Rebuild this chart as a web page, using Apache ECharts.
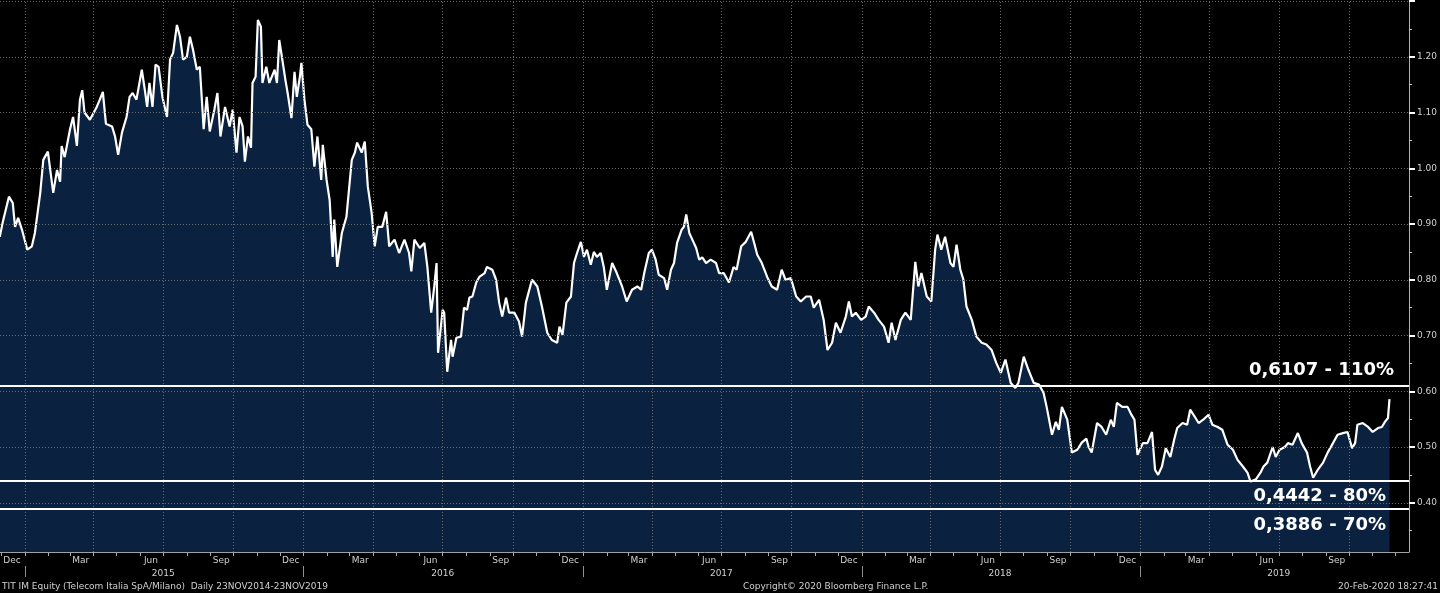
<!DOCTYPE html>
<html>
<head>
<meta charset="utf-8">
<script src="https://cdn.jsdelivr.net/npm/echarts@6/dist/echarts.min.js"></script>
<style>
html,body{margin:0;padding:0;background:#000;}
#chart{width:1440px;height:593px;}
</style>
</head>
<body>
<div id="chart"></div>
<script>
// ---- price data (date, close) ----
const px2014 = [['2014-11-29',0.877],['2014-12-03',0.904],['2014-12-11',0.949],['2014-12-16',0.938],['2014-12-19',0.895],['2014-12-23',0.911],['2014-12-28',0.890]];
const px2015 = [['2015-01-04',0.854],['2015-01-10',0.860],['2015-01-14',0.884],['2015-01-21',0.956],['2015-01-25',1.015],['2015-01-31',1.030],['2015-02-07',0.956],['2015-02-12',0.997],['2015-02-16',0.976],['2015-02-18',1.040],['2015-02-22',1.020],['2015-03-01',1.070],['2015-03-05',1.092],['2015-03-10',1.040],['2015-03-14',1.123],['2015-03-17',1.140],['2015-03-20',1.100],['2015-03-27',1.087],['2015-04-05',1.110],['2015-04-09',1.123],['2015-04-13',1.137],['2015-04-17',1.080],['2015-04-25',1.075],['2015-04-29',1.057],['2015-05-03',1.024],['2015-05-08',1.064],['2015-05-14',1.092],['2015-05-18',1.128],['2015-05-22',1.135],['2015-05-27',1.123],['2015-06-03',1.177],['2015-06-07',1.140],['2015-06-10',1.110],['2015-06-13',1.153],['2015-06-17',1.110],['2015-06-21',1.186],['2015-06-25',1.182],['2015-06-30',1.128],['2015-07-06',1.092],['2015-07-10',1.195],['2015-07-14',1.207],['2015-07-19',1.257],['2015-07-23',1.236],['2015-07-27',1.195],['2015-08-01',1.200],['2015-08-05',1.236],['2015-08-09',1.213],['2015-08-14',1.177],['2015-08-18',1.182],['2015-08-23',1.070],['2015-08-27',1.128],['2015-08-31',1.066],['2015-09-06',1.105],['2015-09-10',1.135],['2015-09-14',1.057],['2015-09-20',1.110],['2015-09-26',1.075],['2015-09-30',1.105],['2015-10-05',1.028],['2015-10-09',1.092],['2015-10-13',1.075],['2015-10-16',1.012],['2015-10-20',1.057],['2015-10-24',1.037],['2015-10-26',1.153],['2015-10-30',1.164],['2015-11-02',1.266],['2015-11-06',1.254],['2015-11-08',1.153],['2015-11-13',1.182],['2015-11-17',1.153],['2015-11-24',1.177],['2015-11-27',1.153],['2015-11-30',1.230],['2015-12-04',1.195],['2015-12-08',1.159],['2015-12-11',1.135],['2015-12-16',1.090],['2015-12-20',1.173],['2015-12-23',1.128],['2015-12-27',1.164],['2015-12-29',1.189]];
const px2016 = [['2016-01-02',1.123],['2016-01-06',1.078],['2016-01-11',1.070],['2016-01-15',1.003],['2016-01-19',1.057],['2016-01-24',0.979],['2016-01-26',1.042],['2016-01-31',0.979],['2016-02-04',0.943],['2016-02-08',0.841],['2016-02-10',0.908],['2016-02-14',0.823],['2016-02-20',0.884],['2016-02-26',0.913],['2016-03-04',1.015],['2016-03-08',1.028],['2016-03-11',1.046],['2016-03-17',1.028],['2016-03-21',1.048],['2016-03-25',0.967],['2016-03-30',0.920],['2016-04-03',0.860],['2016-04-07',0.895],['2016-04-13',0.895],['2016-04-18',0.922],['2016-04-22',0.860],['2016-04-29',0.872],['2016-05-05',0.848],['2016-05-12',0.872],['2016-05-18',0.848],['2016-05-21',0.815],['2016-05-25',0.872],['2016-06-01',0.857],['2016-06-07',0.866],['2016-06-11',0.823],['2016-06-16',0.741],['2016-06-20',0.788],['2016-06-23',0.830],['2016-06-25',0.669],['2016-07-01',0.746],['2016-07-03',0.741],['2016-07-07',0.635],['2016-07-12',0.692],['2016-07-14',0.662],['2016-07-19',0.696],['2016-07-25',0.698],['2016-07-29',0.750],['2016-08-02',0.746],['2016-08-05',0.768],['2016-08-09',0.770],['2016-08-14',0.795],['2016-08-18',0.805],['2016-08-25',0.812],['2016-08-28',0.823],['2016-09-04',0.818],['2016-09-09',0.800],['2016-09-13',0.759],['2016-09-17',0.734],['2016-09-22',0.768],['2016-09-26',0.741],['2016-10-03',0.741],['2016-10-09',0.725],['2016-10-13',0.698],['2016-10-18',0.759],['2016-10-26',0.800],['2016-11-02',0.788],['2016-11-08',0.752],['2016-11-15',0.705],['2016-11-21',0.692],['2016-11-28',0.687],['2016-12-01',0.716],['2016-12-05',0.701],['2016-12-10',0.759],['2016-12-16',0.770],['2016-12-20',0.830],['2016-12-24',0.848],['2016-12-29',0.868]];
const px2017 = [['2017-01-02',0.841],['2017-01-06',0.854],['2017-01-11',0.827],['2017-01-15',0.850],['2017-01-19',0.841],['2017-01-24',0.848],['2017-01-28',0.823],['2017-02-01',0.782],['2017-02-08',0.830],['2017-02-14',0.812],['2017-02-21',0.788],['2017-02-27',0.761],['2017-03-06',0.782],['2017-03-13',0.788],['2017-03-18',0.782],['2017-03-22',0.812],['2017-03-28',0.848],['2017-04-01',0.854],['2017-04-06',0.836],['2017-04-10',0.809],['2017-04-17',0.803],['2017-04-21',0.782],['2017-04-26',0.818],['2017-04-30',0.830],['2017-05-04',0.866],['2017-05-10',0.890],['2017-05-13',0.895],['2017-05-16',0.917],['2017-05-20',0.884],['2017-05-24',0.872],['2017-05-29',0.857],['2017-06-02',0.836],['2017-06-06',0.840],['2017-06-11',0.830],['2017-06-17',0.836],['2017-06-24',0.830],['2017-06-28',0.812],['2017-07-04',0.812],['2017-07-11',0.795],['2017-07-17',0.823],['2017-07-21',0.818],['2017-07-27',0.860],['2017-08-02',0.868],['2017-08-09',0.886],['2017-08-13',0.866],['2017-08-17',0.845],['2017-08-23',0.830],['2017-08-30',0.805],['2017-09-05',0.788],['2017-09-12',0.782],['2017-09-18',0.818],['2017-09-23',0.800],['2017-09-30',0.803],['2017-10-07',0.770],['2017-10-13',0.761],['2017-10-20',0.770],['2017-10-26',0.770],['2017-10-30',0.750],['2017-11-06',0.764],['2017-11-12',0.728],['2017-11-17',0.674],['2017-11-23',0.687],['2017-11-28',0.723],['2017-12-04',0.705],['2017-12-11',0.734],['2017-12-15',0.761],['2017-12-19',0.734],['2017-12-24',0.741],['2017-12-31',0.728]];
const px2018 = [['2018-01-06',0.734],['2018-01-10',0.752],['2018-01-17',0.741],['2018-01-23',0.728],['2018-01-30',0.716],['2018-02-05',0.687],['2018-02-09',0.723],['2018-02-14',0.692],['2018-02-21',0.728],['2018-02-27',0.741],['2018-03-06',0.728],['2018-03-12',0.832],['2018-03-16',0.788],['2018-03-20',0.812],['2018-03-27',0.770],['2018-04-02',0.761],['2018-04-07',0.854],['2018-04-10',0.881],['2018-04-15',0.854],['2018-04-20',0.877],['2018-04-27',0.830],['2018-05-01',0.823],['2018-05-05',0.863],['2018-05-10',0.818],['2018-05-14',0.800],['2018-05-18',0.752],['2018-05-25',0.728],['2018-05-31',0.698],['2018-06-07',0.687],['2018-06-13',0.684],['2018-06-20',0.674],['2018-06-26',0.651],['2018-07-02',0.633],['2018-07-08',0.657],['2018-07-15',0.615],['2018-07-21',0.606],['2018-07-25',0.615],['2018-08-01',0.662],['2018-08-07',0.639],['2018-08-14',0.615],['2018-08-21',0.612],['2018-08-27',0.597],['2018-08-31',0.572],['2018-09-07',0.522],['2018-09-12',0.545],['2018-09-16',0.531],['2018-09-20',0.572],['2018-09-27',0.549],['2018-10-03',0.490],['2018-10-10',0.495],['2018-10-16',0.508],['2018-10-22',0.515],['2018-10-25',0.500],['2018-10-29',0.490],['2018-11-05',0.543],['2018-11-11',0.536],['2018-11-17',0.522],['2018-11-23',0.549],['2018-11-27',0.536],['2018-12-01',0.579],['2018-12-08',0.572],['2018-12-15',0.572],['2018-12-20',0.558],['2018-12-24',0.549],['2018-12-28',0.486]];
const px2019 = [['2019-01-04',0.507],['2019-01-10',0.507],['2019-01-16',0.527],['2019-01-20',0.459],['2019-01-24',0.450],['2019-01-29',0.465],['2019-02-03',0.498],['2019-02-09',0.482],['2019-02-14',0.513],['2019-02-18',0.534],['2019-02-25',0.543],['2019-03-03',0.540],['2019-03-07',0.567],['2019-03-14',0.552],['2019-03-18',0.543],['2019-03-24',0.549],['2019-03-31',0.558],['2019-04-05',0.540],['2019-04-12',0.536],['2019-04-18',0.531],['2019-04-25',0.504],['2019-05-02',0.495],['2019-05-08',0.477],['2019-05-15',0.465],['2019-05-21',0.454],['2019-05-25',0.438],['2019-06-01',0.442],['2019-06-07',0.454],['2019-06-11',0.465],['2019-06-16',0.472],['2019-06-23',0.500],['2019-06-27',0.482],['2019-07-02',0.495],['2019-07-09',0.500],['2019-07-13',0.507],['2019-07-19',0.504],['2019-07-26',0.525],['2019-07-31',0.507],['2019-08-07',0.490],['2019-08-11',0.465],['2019-08-15',0.445],['2019-08-21',0.459],['2019-08-28',0.472],['2019-09-03',0.490],['2019-09-10',0.507],['2019-09-16',0.522],['2019-09-23',0.525],['2019-09-29',0.527],['2019-10-05',0.498],['2019-10-09',0.507],['2019-10-12',0.540],['2019-10-19',0.543],['2019-10-26',0.536],['2019-11-01',0.527],['2019-11-08',0.534],['2019-11-13',0.536],['2019-11-17',0.545],['2019-11-21',0.552],['2019-11-23',0.586]];

// ---- level lines ----
const levelValues = [0.6107, 0.4442, 0.3886];
const levelLabels = ['0,6107 - 110%', '0,4442 - 80%', '0,3886 - 70%'];

// ---- axis labels / ticks ----
const yLabelValues = [0.40, 0.50, 0.60, 0.70, 0.80, 0.90, 1.00, 1.10, 1.20];
const yMajorTicks = [0.40, 0.50, 0.60, 0.70, 0.80, 0.90, 1.00, 1.10, 1.20, 1.30];
const yMinorTicks = [0.35, 0.45, 0.55, 0.65, 0.75, 0.85, 0.95, 1.05, 1.15, 1.25];
const monthNames = ['Jan','Feb','Mar','Apr','May','Jun','Jul','Aug','Sep','Oct','Nov','Dec'];
const labelledMonths = [11, 2, 5, 8];   // Dec, Mar, Jun, Sep
const years = [2015, 2016, 2017, 2018, 2019];

const footerLeft = 'TIT IM Equity (Telecom Italia SpA/Milano)  Daily 23NOV2014-23NOV2019';
const footerMid = 'Copyright\u00A9 2020 Bloomberg Finance L.P.';
const footerRight = '20-Feb-2020 18:27:41';

// ---- build ----
const FONT = 'DejaVu Sans';
const d = (y, m, day, h) => new Date(y, m, day, h || 0).getTime();
const parseDate = s => { const p = s.split('-').map(Number); return d(p[0], p[1] - 1, p[2]); };
const seriesData = [].concat(px2014, px2015, px2016, px2017, px2018, px2019).map(p => [parseDate(p[0]), p[1]]);
const X_MIN = d(2014, 10, 29, 7);
const X_MAX = d(2019, 11, 18, 12);
const LAST_LABEL = d(2019, 11, 1);
const Y_MIN = 0.3117, Y_MAX = 1.30;

const monthTicks = [], monthLabels = [], quarterLines = [];
for (let y = 2014; y <= 2019; y++) {
  for (let m = 0; m < 12; m++) {
    const t = d(y, m, 1);
    if (t >= X_MIN && t <= X_MAX) monthTicks.push(t);
    const tl = d(y, m, 15);
    if (labelledMonths.indexOf(m) >= 0 && tl >= X_MIN && tl < LAST_LABEL) monthLabels.push(tl);
    if (m % 3 === 0 && t >= X_MIN && t <= X_MAX) quarterLines.push({ xAxis: t });
  }
}
const yearTicks = years.map(y => d(y, 0, 1));
const yearLabels = years.map(y => d(y, 6, 1));

const gridStyle = { color: '#6a6a6a', width: 1, type: [1, 2] };
const hLines = yMajorTicks.map(v => ({ yAxis: v }));

const chart = echarts.init(document.getElementById('chart'), null, { renderer: 'canvas' });
chart.setOption({
  backgroundColor: '#000000',
  animation: false,
  grid: { left: 0, right: 29, top: 1, bottom: 41, containLabel: false },
  xAxis: [
    {
      type: 'value', min: X_MIN, max: X_MAX, position: 'bottom', scale: true,
      axisLine: { show: true, onZero: false, lineStyle: { color: '#a0a0a0', width: 1 } },
      axisTick: { show: true, customValues: monthTicks, length: 4, lineStyle: { color: '#a8a8a8' } },
      axisLabel: {
        show: true, customValues: monthLabels, margin: 4,
        color: '#d0d0d0', fontFamily: FONT, fontSize: 9,
        formatter: v => monthNames[new Date(v).getMonth()]
      },
      splitLine: { show: false }
    },
    {
      type: 'value', min: X_MIN, max: X_MAX, position: 'bottom', offset: 14, scale: true,
      axisLine: { show: false, onZero: false },
      axisTick: { show: true, customValues: yearTicks, length: 11, lineStyle: { color: '#909090' } },
      axisLabel: {
        show: true, customValues: yearLabels, margin: 3,
        color: '#d0d0d0', fontFamily: FONT, fontSize: 9,
        formatter: v => String(new Date(v).getFullYear())
      },
      splitLine: { show: false }
    }
  ],
  yAxis: [
    {
      type: 'value', min: Y_MIN, max: Y_MAX, position: 'right', offset: 0,
      axisLine: { show: true, lineStyle: { color: '#b0b0b0', width: 1 } },
      axisTick: { show: true, customValues: yMinorTicks, length: 3, lineStyle: { color: '#c8c8c8' } },
      axisLabel: { show: false },
      splitLine: { show: false }
    },
    {
      type: 'value', min: Y_MIN, max: Y_MAX, position: 'right', offset: 0,
      axisLine: { show: false },
      axisTick: { show: true, customValues: yMajorTicks, length: 6, lineStyle: { color: '#ffffff', width: 2 } },
      axisLabel: {
        show: true, customValues: yLabelValues, margin: 8,
        color: '#d0d0d0', fontFamily: FONT, fontSize: 9,
        formatter: v => v.toFixed(2)
      },
      splitLine: { show: false }
    }
  ],
  series: [
    {
      name: 'area', type: 'line', data: seriesData, xAxisIndex: 0, yAxisIndex: 0, z: 1,
      showSymbol: false, symbol: 'none', silent: true,
      lineStyle: { width: 0, opacity: 0 },
      areaStyle: { color: '#0a2140', opacity: 1, origin: 'start' }
    },
    {
      name: 'grid', type: 'line', data: seriesData, xAxisIndex: 0, yAxisIndex: 0, z: 2,
      showSymbol: false, symbol: 'none', silent: true,
      lineStyle: { width: 0, opacity: 0 },
      markLine: {
        silent: true, symbol: ['none', 'none'], animation: false,
        label: { show: false },
        lineStyle: gridStyle,
        data: quarterLines.concat(hLines)
      }
    },
    {
      name: 'TIT IM Equity', type: 'line', data: seriesData, xAxisIndex: 0, yAxisIndex: 0, z: 4,
      showSymbol: false, symbol: 'none', silent: true,
      lineStyle: { color: '#ffffff', width: 2.2 },
      markLine: {
        silent: true, symbol: ['none', 'none'], animation: false,
        lineStyle: { color: '#ffffff', width: 2, type: 'solid' },
        label: { show: true, color: '#ffffff', fontFamily: FONT, fontWeight: 'bold', fontSize: 18 },
        data: [
          { yAxis: levelValues[0], label: { formatter: levelLabels[0], position: 'insideEndTop', distance: [15, 6] } },
          { yAxis: levelValues[1], label: { formatter: levelLabels[1], position: 'insideEndBottom', distance: [23, 7] } },
          { yAxis: levelValues[2], label: { formatter: levelLabels[2], position: 'insideEndBottom', distance: [23, 8] } }
        ]
      }
    }
  ],
  graphic: [
    { type: 'text', x: 2, y: 587, style: { text: footerLeft, fill: '#cfcfcf', font: '9px "DejaVu Sans"', align: 'left', verticalAlign: 'middle' } },
    { type: 'text', x: 743, y: 587, style: { text: footerMid, fill: '#cfcfcf', font: '9px "DejaVu Sans"', align: 'left', verticalAlign: 'middle' } },
    { type: 'text', x: 1438, y: 587, style: { text: footerRight, fill: '#cfcfcf', font: '9px "DejaVu Sans"', align: 'right', verticalAlign: 'middle' } }
  ]
});
</script>
</body>
</html>
